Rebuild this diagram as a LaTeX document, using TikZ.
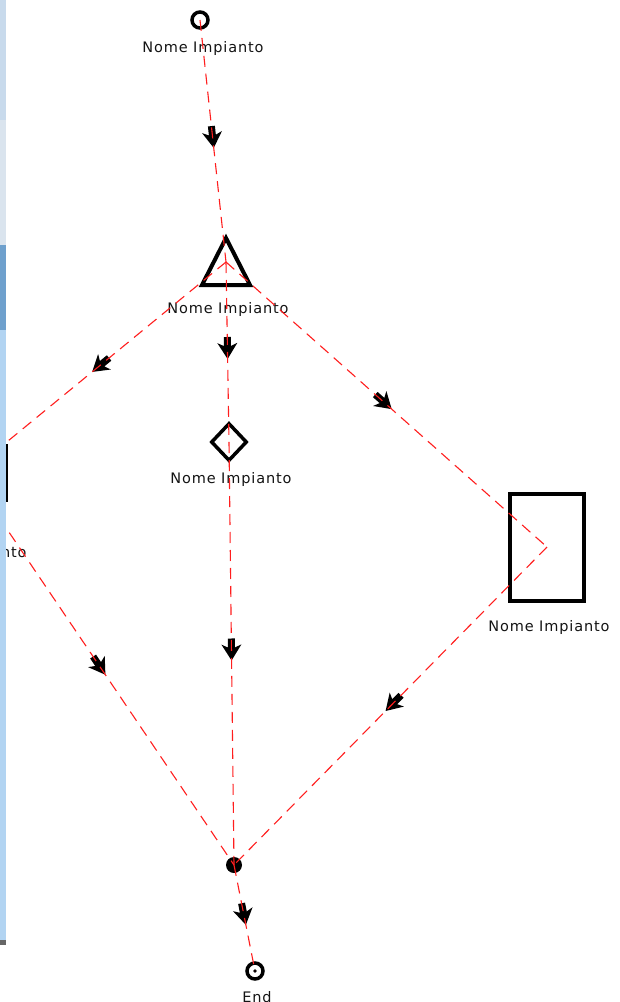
\documentclass[tikz,border=0pt]{standalone}
\usepackage{fontspec}
\newfontfamily\lblfont[LetterSpace=6]{DejaVu Sans}
\usetikzlibrary{decorations.markings,shapes.geometric}
\definecolor{edgered}{RGB}{255,30,30}
\definecolor{stripA}{RGB}{200,218,236}
\definecolor{stripB}{RGB}{218,228,238}
\definecolor{stripC}{RGB}{110,160,205}
\definecolor{stripD}{RGB}{178,212,242}
\begin{document}
\begin{tikzpicture}[x=1pt,y=-1pt,
  lbl/.style={font=\lblfont\fontsize{14.5}{16}\selectfont, text=black!92, inner sep=0pt},
  shp/.style={draw=black, line width=4pt},
  edge/.style={draw=edgered, line width=1.1pt, dash pattern=on 11pt off 7pt},
  arr/.style={decoration={markings, mark=at position 0.5 with {\fill[black] (7pt,0pt) -- (-9pt,-10pt) -- (-6pt,-3.5pt) -- (-15pt,-3.5pt) -- (-15pt,3.5pt) -- (-6pt,3.5pt) -- (-9pt,10pt) -- cycle;}}, decorate}
]
\useasboundingbox (0,0) rectangle (619,1002);
\clip (0,0) rectangle (619,1002);
\fill[white] (0,0) rectangle (619,1002);

% nodes
\node[circle, shp, line width=3.5pt, minimum size=16pt, inner sep=0pt] (start) at (200,20) {};
\node[lbl] (startlbl) at (203,48) {Nome Impianto};

\coordinate (tri) at (226,262);
\draw[shp, line join=miter] (226,238) -- (250,285) -- (202,285) -- cycle;
\node[lbl] (trilbl) at (228,309) {Nome Impianto};

\node[diamond, shp, line width=3.5pt, minimum width=36pt, minimum height=38pt, inner sep=0pt] (dia) at (229,442) {};
\node[lbl] (dialbl) at (231,479) {Nome Impianto};

\node[rectangle, shp, minimum width=74pt, minimum height=107pt, inner sep=0pt] (rr) at (547,547) {};
\node[lbl] (rrlbl) at (549,627) {Nome Impianto};

\node[rectangle, shp, minimum width=74pt, minimum height=54pt, inner sep=0pt] (lr) at (-31,473) {};
\node[lbl] (lrlbl) at (-34,553) {Nome Impianto};

\node[circle, fill=black, minimum size=16pt, inner sep=0pt] (join) at (234,865) {};

\node[circle, shp, line width=3.5pt, minimum size=16pt, inner sep=0pt] (end) at (255,971) {};
\fill[black] (end.center) circle (1.8pt);
\node[lbl, anchor=north] (endlbl) at (257,991) {End};

% connectors
\foreach \a/\b in {start/tri, tri/lr, tri/dia, tri/rr, lr/join, dia/join, rr/join, join/end} {
  \path[arr] (\a.center) -- (\b.center);
  \draw[edge] (\a.center) -- (\b.center);
}

% window strip on the left
\fill[stripA] (0,0) rectangle (6,120);
\fill[stripB] (0,120) rectangle (6,245);
\fill[stripC] (0,245) rectangle (6,330);
\fill[stripD] (0,330) rectangle (6,945);
\fill[black!60] (0,940) rectangle (6,945);
\end{tikzpicture}
\end{document}
